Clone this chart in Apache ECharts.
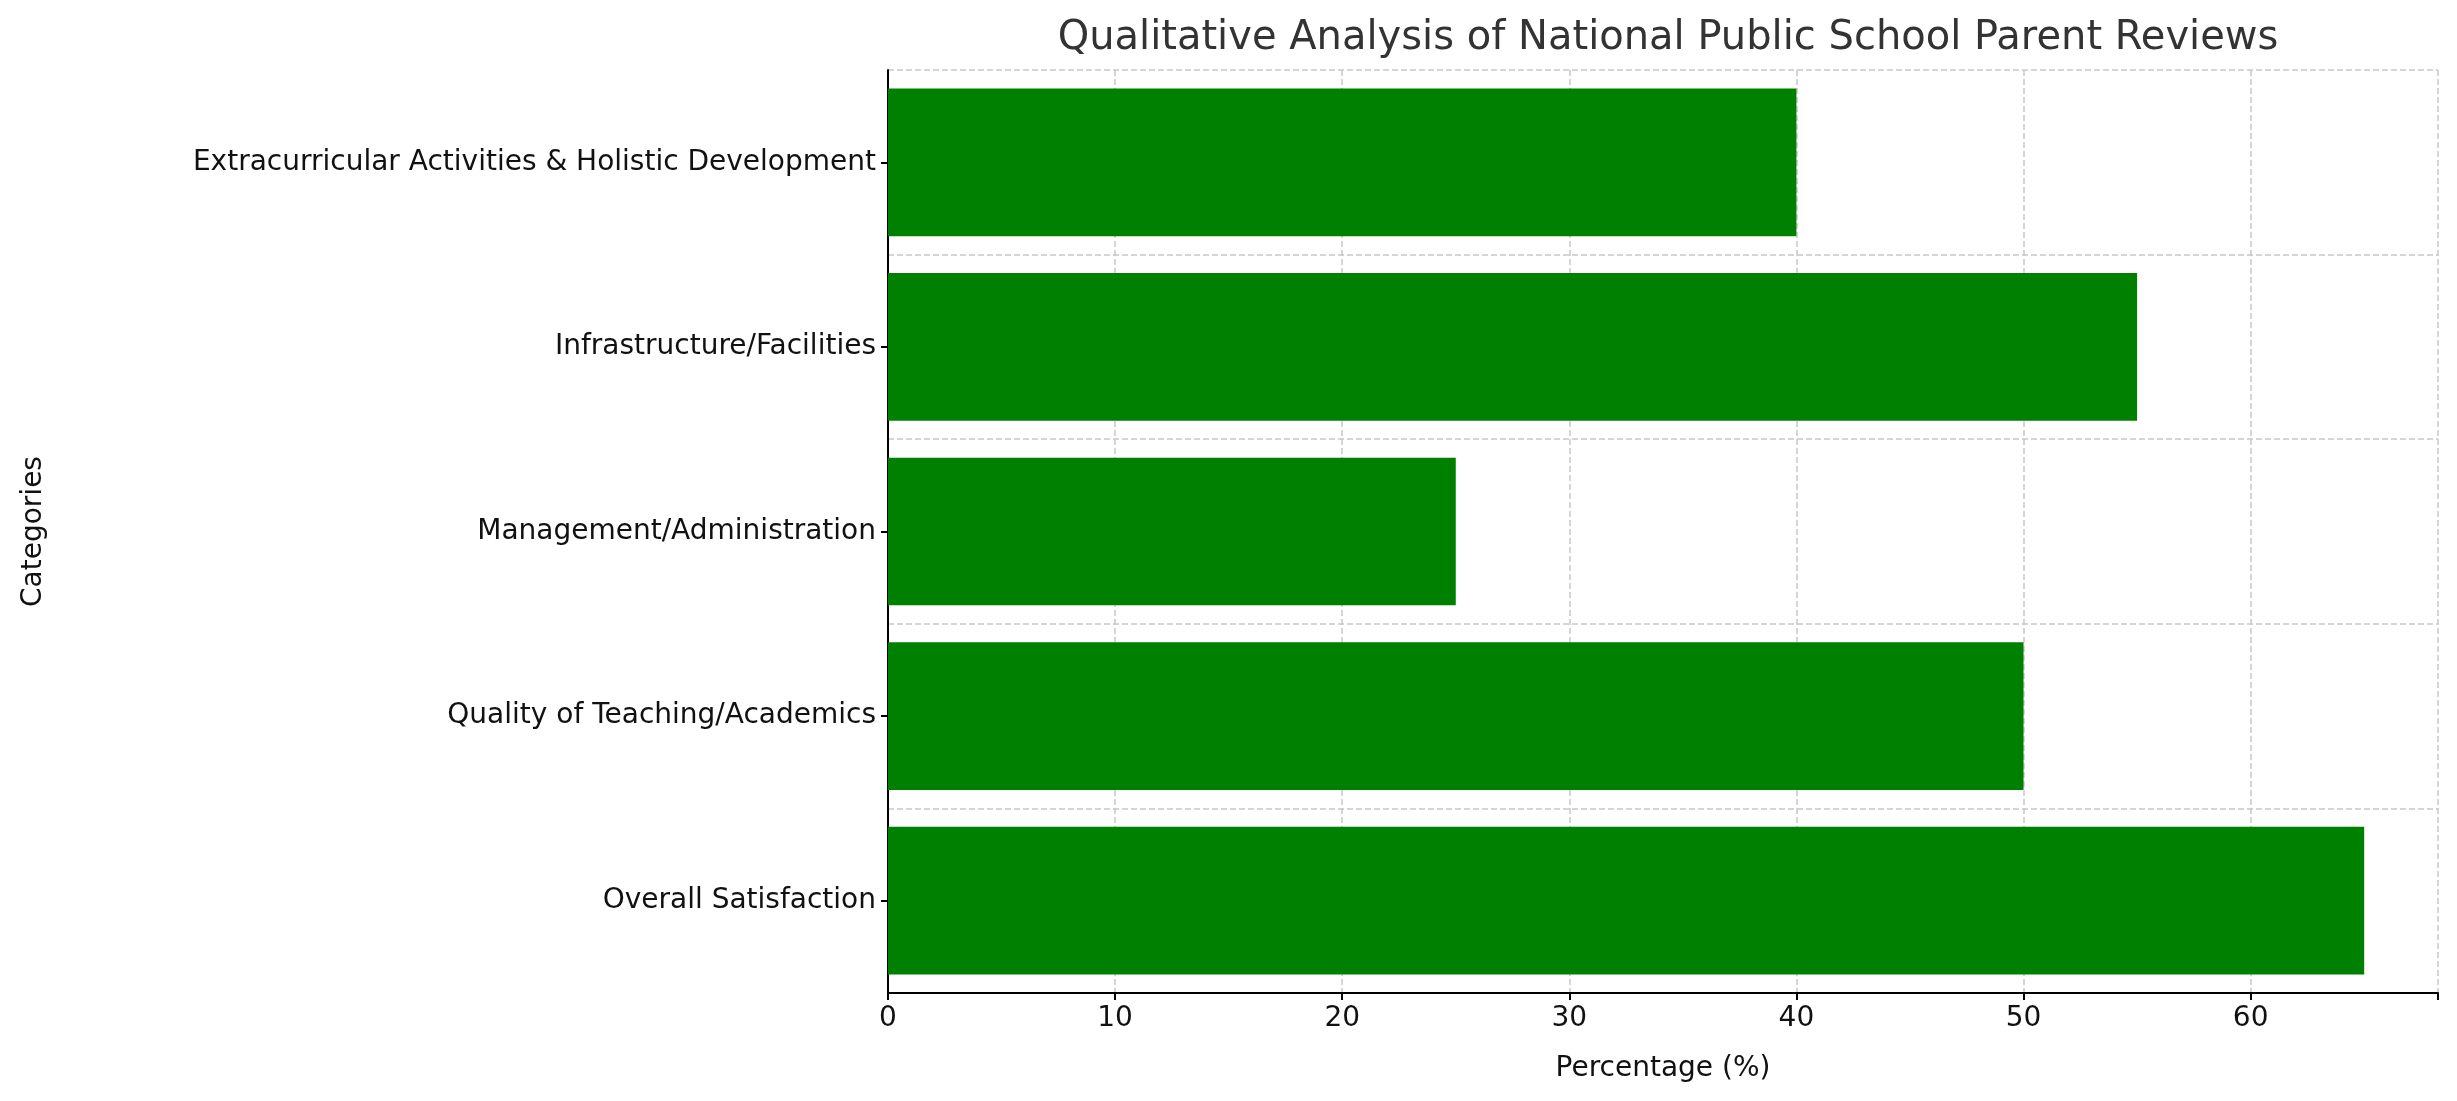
<!DOCTYPE html>
<html>
<head>
<meta charset="utf-8">
<script src="https://cdn.jsdelivr.net/npm/echarts@6/dist/echarts.min.js"></script>
<style>html,body{margin:0;padding:0;background:#fff}#chart{width:2457px;height:1101px}</style>
</head>
<body>
<div id="chart"></div>
<script>
var categories = ['Overall Satisfaction', 'Quality of Teaching/Academics', 'Management/Administration', 'Infrastructure/Facilities', 'Extracurricular Activities & Holistic Development'];
var percentages = [65, 50, 25, 55, 40];
var xTicks = [0, 10, 20, 30, 40, 50, 60];

var myChart = echarts.init(document.getElementById('chart'));
var font = 'DejaVu Sans';
var grid = {type: 'dashed', color: '#c8c8c8', width: 1.5};
var option = {
    title: {
        text: 'Qualitative Analysis of National Public School Parent Reviews',
        left: 1663, top: 14, textAlign: 'center',
        textStyle: {fontFamily: font, fontSize: 40, fontWeight: 'normal', color: '#333'}
    },
    grid: {left: 888, right: 19, top: 70, bottom: 108},
    xAxis: {
        type: 'value', min: 0, max: 68.25, interval: 10,
        name: 'Percentage (%)', nameLocation: 'middle', nameGap: 62,
        nameTextStyle: {fontFamily: font, fontSize: 28, color: '#111'},
        axisLine: {show: true, lineStyle: {color: '#000', width: 2}},
        axisTick: {show: true, length: 7, lineStyle: {color: '#000', width: 2}},
        axisLabel: {fontFamily: font, fontSize: 28, color: '#111', margin: 12,
            formatter: function (v) { return xTicks.indexOf(v) >= 0 ? String(v) : ''; }},
        splitLine: {show: true, lineStyle: grid}
    },
    yAxis: {
        type: 'category', data: categories,
        name: 'Categories', nameLocation: 'middle', nameGap: 840,
        nameTextStyle: {fontFamily: font, fontSize: 28, color: '#111'},
        axisLine: {show: true, lineStyle: {color: '#000', width: 2}},
        axisTick: {show: true, alignWithLabel: true, length: 7, lineStyle: {color: '#000', width: 2}},
        axisLabel: {fontFamily: font, fontSize: 28, color: '#111', margin: 12},
        splitLine: {show: true, lineStyle: grid}
    },
    series: [{
        type: 'bar', data: percentages, barCategoryGap: '20%',
        itemStyle: {color: '#008000'}, silent: true
    }]
};
myChart.setOption(option);
</script>
</body>
</html>
